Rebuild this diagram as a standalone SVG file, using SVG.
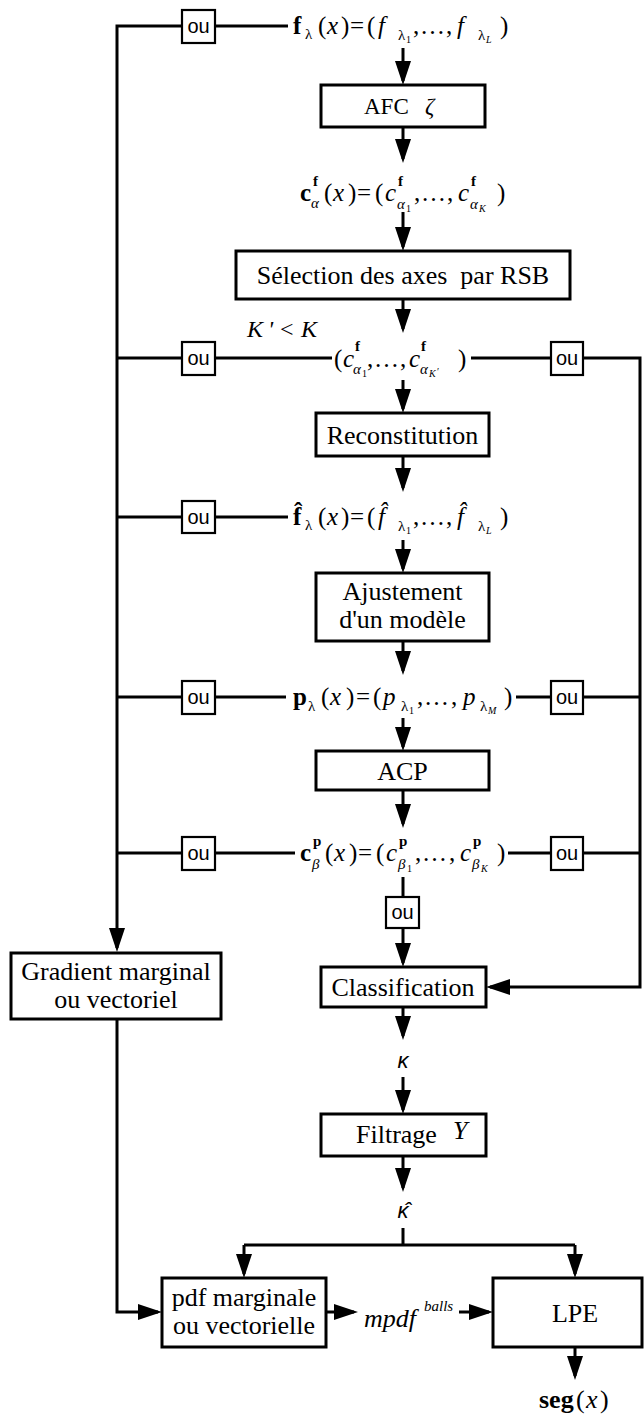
<svg xmlns="http://www.w3.org/2000/svg" width="644" height="1416" viewBox="0 0 644 1416">
<style>
.box{fill:#fff;stroke:#000;stroke-width:3}
.ou{fill:#fff;stroke:#000;stroke-width:2.2}
.out{font-family:"Liberation Sans",Arial,sans-serif;font-size:20px;text-anchor:middle}
.t{font-family:"Liberation Serif","Times New Roman",serif;font-size:26px;text-anchor:middle}
.m{font-family:"Liberation Serif","Times New Roman",serif;font-size:25px}
.i{font-style:italic}
.b{font-weight:bold}
.s{font-size:15px}
.ss{font-size:10px}
.c{fill:none;stroke:#000;stroke-width:3}
.ca{fill:none;stroke:#000;stroke-width:3;marker-end:url(#ah)}
.gk{font-family:"Liberation Sans",Arial,sans-serif;font-size:22px;font-style:italic;text-anchor:middle}
</style>
<defs>
<marker id="ah" viewBox="0 0 24 16" refX="20" refY="8" markerWidth="24" markerHeight="16" markerUnits="userSpaceOnUse" orient="auto"><path d="M0,0 L24,8 L0,16 z" fill="#000"/></marker>
</defs>
<rect width="644" height="1416" fill="#fff"/>

<g id="connectors">
<path class="ca" d="M182,26 H117 V948"/>
<path class="c" d="M215,26 H288"/>
<path class="c" d="M117,358 H182 M215,358 H332"/>
<path class="c" d="M117,517 H182 M215,517 H288"/>
<path class="c" d="M117,697 H182 M215,697 H286"/>
<path class="c" d="M117,853 H182 M215,853 H295"/>
<path class="c" d="M471,358 H551 M516,697 H551 M583,697 H640 M508,853 H551 M583,853 H640"/>
<path class="ca" d="M583,358 H640 V987 H490"/>
<path class="ca" d="M403,48 V81"/>
<path class="ca" d="M403,127 V159"/>
<path class="ca" d="M403,212 V247"/>
<path class="ca" d="M403,299 V329"/>
<path class="ca" d="M403,380 V409"/>
<path class="ca" d="M403,456 V488"/>
<path class="ca" d="M403,540 V569"/>
<path class="ca" d="M403,641 V671"/>
<path class="ca" d="M403,718 V747"/>
<path class="ca" d="M403,790 V824"/>
<path class="c" d="M403,877 V897"/>
<path class="ca" d="M403,928 V963"/>
<path class="ca" d="M403,1007 V1036"/>
<path class="ca" d="M403,1077 V1110"/>
<path class="ca" d="M403,1156 V1188"/>
<path class="c" d="M403,1228 V1245 M244,1245 H575"/>
<path class="ca" d="M244,1245 V1274"/>
<path class="ca" d="M575,1245 V1274"/>
<path class="ca" d="M117,1019 V1312 H158"/>
<path class="ca" d="M326,1312 H354"/>
<path class="ca" d="M459,1312 H489"/>
<path class="ca" d="M575,1347 V1376"/>
</g>

<g id="ou-nodes">
<g id="ou1"><rect class="ou" x="182" y="10" width="33" height="33"/><text class="out" x="198.5" y="33">ou</text></g>
<g id="ou2"><rect class="ou" x="182" y="342" width="33" height="33"/><text class="out" x="198.5" y="365">ou</text></g>
<g id="ou3"><rect class="ou" x="551" y="342" width="32" height="33"/><text class="out" x="567" y="365">ou</text></g>
<g id="ou4"><rect class="ou" x="182" y="501" width="33" height="32"/><text class="out" x="198.5" y="524">ou</text></g>
<g id="ou5"><rect class="ou" x="182" y="681" width="33" height="33"/><text class="out" x="198.5" y="704">ou</text></g>
<g id="ou6"><rect class="ou" x="551" y="681" width="32" height="33"/><text class="out" x="567" y="704">ou</text></g>
<g id="ou7"><rect class="ou" x="182" y="837" width="33" height="33"/><text class="out" x="198.5" y="860">ou</text></g>
<g id="ou8"><rect class="ou" x="551" y="837" width="32" height="33"/><text class="out" x="567" y="860">ou</text></g>
<g id="ou9"><rect class="ou" x="386" y="897" width="33" height="31"/><text class="out" x="402.5" y="919">ou</text></g>
</g>

<g id="f-row">
<text class="m">
<tspan class="b" x="293" y="34">f</tspan><tspan class="s" x="305" y="39">λ</tspan><tspan x="318" y="34">(</tspan><tspan class="i" x="327">x</tspan><tspan x="341">)</tspan><tspan x="350">=</tspan><tspan x="367">(</tspan><tspan class="i" x="378">f</tspan><tspan class="s" x="398" y="40">λ</tspan><tspan class="ss" x="406" y="43">1</tspan><tspan x="413" y="34">,</tspan><tspan x="420">…</tspan><tspan x="446">,</tspan><tspan class="i" x="457">f</tspan><tspan class="s" x="478" y="40">λ</tspan><tspan class="ss i" x="486" y="43">L</tspan><tspan x="500" y="34">)</tspan>
</text>
</g>

<g id="afc">
<rect class="box" x="321" y="85" width="164" height="42"/>
<text class="m" x="364" y="114" style="font-size:23px">AFC</text>
<text class="m i" x="425" y="114" style="font-size:23px">ζ</text>
</g>

<g id="cf-row">
<text class="m">
<tspan class="b" x="300" y="201">c</tspan><tspan class="s b" x="313" y="186">f</tspan><tspan class="s i" x="311" y="208">α</tspan><tspan x="324" y="201">(</tspan><tspan class="i" x="333">x</tspan><tspan x="348">)</tspan><tspan x="357">=</tspan><tspan x="375">(</tspan><tspan class="i" x="385">c</tspan><tspan class="s b" x="398" y="186">f</tspan><tspan class="s i" x="397" y="209">α</tspan><tspan class="ss" x="406" y="212">1</tspan><tspan x="414" y="201">,</tspan><tspan x="421">…</tspan><tspan x="447">,</tspan><tspan class="i" x="458">c</tspan><tspan class="s b" x="471" y="186">f</tspan><tspan class="s i" x="470" y="209">α</tspan><tspan class="ss i" x="479" y="212">K</tspan><tspan x="497" y="201">)</tspan>
</text>
</g>

<g id="selection">
<rect class="box" x="236" y="251" width="334" height="48"/>
<text class="t" x="403" y="284" xml:space="preserve">Sélection des axes  par RSB</text>
</g>

<g id="kk-label">
<text class="m i" style="font-size:24px"><tspan x="247" y="337">K</tspan><tspan x="268">'</tspan><tspan x="280" style="font-style:normal">&lt;</tspan><tspan x="301">K</tspan></text>
</g>

<g id="k-row">
<text class="m">
<tspan x="334" y="367">(</tspan><tspan class="i" x="343">c</tspan><tspan class="s b" x="355" y="351">f</tspan><tspan class="s i" x="353" y="374">α</tspan><tspan class="ss" x="362" y="377">1</tspan><tspan x="367" y="367">,</tspan><tspan x="374">…</tspan><tspan x="400">,</tspan><tspan class="i" x="409">c</tspan><tspan class="s b" x="421" y="351">f</tspan><tspan class="s i" x="420" y="374">α</tspan><tspan class="ss i" x="429" y="377">K</tspan><tspan class="ss" x="437" y="375">′</tspan><tspan x="458" y="367">)</tspan>
</text>
</g>

<g id="reconstitution">
<rect class="box" x="316" y="413" width="173" height="43"/>
<text class="t" x="402.5" y="444">Reconstitution</text>
</g>

<g id="fhat-row">
<text class="m">
<tspan class="b" x="293" y="525">f̂</tspan><tspan class="s" x="305" y="530">λ</tspan><tspan x="318" y="525">(</tspan><tspan class="i" x="327">x</tspan><tspan x="341">)</tspan><tspan x="350">=</tspan><tspan x="367">(</tspan><tspan class="i" x="378">f̂</tspan><tspan class="s" x="398" y="531">λ</tspan><tspan class="ss" x="406" y="534">1</tspan><tspan x="413" y="525">,</tspan><tspan x="420">…</tspan><tspan x="446">,</tspan><tspan class="i" x="457">f̂</tspan><tspan class="s" x="478" y="531">λ</tspan><tspan class="ss i" x="486" y="534">L</tspan><tspan x="500" y="525">)</tspan>
</text>
</g>

<g id="ajustement">
<rect class="box" x="316" y="573" width="173" height="68"/>
<text class="t" x="402.5" y="600">Ajustement</text>
<text class="t" x="402.5" y="628">d'un modèle</text>
</g>

<g id="p-row">
<text class="m">
<tspan class="b" x="293" y="705">p</tspan><tspan class="s" x="308" y="711">λ</tspan><tspan x="321" y="705">(</tspan><tspan class="i" x="330">x</tspan><tspan x="346">)</tspan><tspan x="356">=</tspan><tspan x="373">(</tspan><tspan class="i" x="383">p</tspan><tspan class="s" x="401" y="711">λ</tspan><tspan class="ss" x="409" y="714">1</tspan><tspan x="417" y="705">,</tspan><tspan x="424">…</tspan><tspan x="451">,</tspan><tspan class="i" x="463">p</tspan><tspan class="s" x="480" y="711">λ</tspan><tspan class="ss i" x="488" y="714">M</tspan><tspan x="504" y="705">)</tspan>
</text>
</g>

<g id="acp">
<rect class="box" x="316" y="751" width="173" height="39"/>
<text class="t" x="402.5" y="780">ACP</text>
</g>

<g id="cp-row">
<text class="m">
<tspan class="b" x="300" y="861">c</tspan><tspan class="s b" x="313" y="846">p</tspan><tspan class="s i" x="312" y="869">β</tspan><tspan x="325" y="861">(</tspan><tspan class="i" x="334">x</tspan><tspan x="349">)</tspan><tspan x="358">=</tspan><tspan x="376">(</tspan><tspan class="i" x="386">c</tspan><tspan class="s b" x="399" y="846">p</tspan><tspan class="s i" x="398" y="869">β</tspan><tspan class="ss" x="407" y="872">1</tspan><tspan x="415" y="861">,</tspan><tspan x="422">…</tspan><tspan x="449">,</tspan><tspan class="i" x="460">c</tspan><tspan class="s b" x="473" y="846">p</tspan><tspan class="s i" x="472" y="869">β</tspan><tspan class="ss i" x="481" y="872">K</tspan><tspan x="497" y="861">)</tspan>
</text>
</g>

<g id="gradient">
<rect class="box" x="11" y="953" width="210" height="66"/>
<text class="t" x="116" y="980">Gradient marginal</text>
<text class="t" x="116" y="1008">ou vectoriel</text>
</g>

<g id="classification">
<rect class="box" x="321" y="967" width="165" height="40"/>
<text class="t" x="403" y="996">Classification</text>
</g>

<g id="kappa">
<text class="gk" x="403" y="1068">κ</text>
</g>

<g id="filtrage">
<rect class="box" x="321" y="1114" width="165" height="42"/>
<text class="m" x="356" y="1143" style="font-size:26px">Filtrage</text>
<text class="m i" x="453" y="1139" style="font-size:26px">Υ</text>
</g>

<g id="kappa-hat">
<text class="gk" x="403" y="1218">κ̂</text>
</g>

<g id="pdf">
<rect class="box" x="162" y="1278" width="164" height="69"/>
<text class="t" x="244" y="1306">pdf marginale</text>
<text class="t" x="244" y="1334">ou vectorielle</text>
</g>

<g id="mpdf">
<text class="m i" style="font-size:26px"><tspan x="364" y="1327">mpdf</tspan><tspan x="424" y="1311" style="font-size:15px">balls</tspan></text>
</g>

<g id="lpe">
<rect class="box" x="493" y="1278" width="149" height="69"/>
<text class="t" x="575" y="1322">LPE</text>
</g>

<g id="seg">
<text class="m" style="font-size:26px"><tspan class="b" x="539" y="1408">seg</tspan><tspan x="576">(</tspan><tspan class="i" x="586">x</tspan><tspan x="600">)</tspan></text>
</g>
</svg>
